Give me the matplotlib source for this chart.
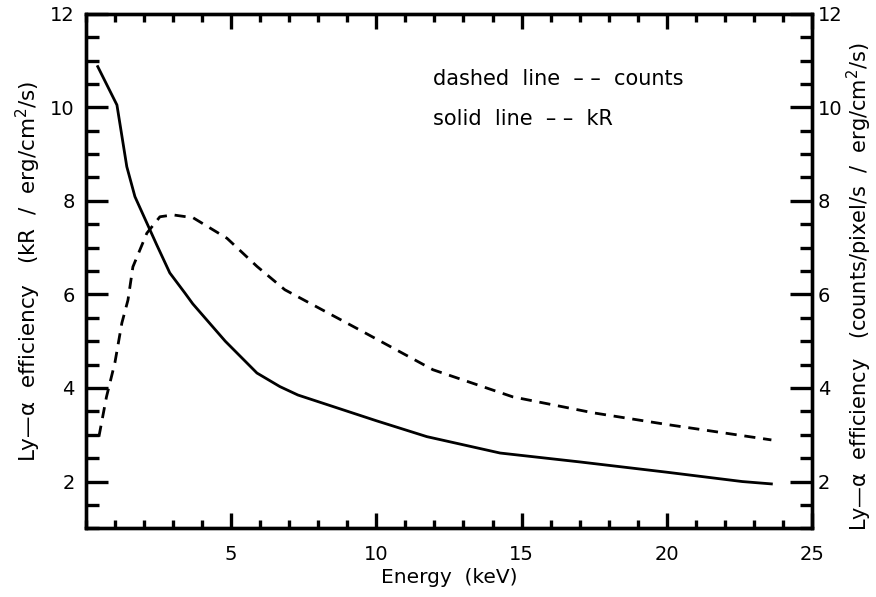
import numpy as np
import matplotlib.pyplot as plt
from matplotlib.ticker import MultipleLocator

# Energy (keV) and efficiencies
energy_kr = [0.41, 1.07, 1.41, 1.69, 2.44, 2.89, 3.41, 3.68, 4.8, 5.89, 6.68, 7.3,
             10.0, 11.74, 14.26, 17.0, 20.0, 22.6, 23.6]
kr = [10.87, 10.05, 8.73, 8.09, 7.06, 6.46, 6.03, 5.8, 5.0, 4.32, 4.03, 3.85,
      3.3, 2.96, 2.61, 2.42, 2.2, 2.0, 1.95]

energy_counts = [0.45, 0.71, 1.0, 1.24, 1.45, 1.62, 2.1, 2.55, 3.0, 3.69, 4.86,
                 5.89, 6.85, 9.43, 11.95, 14.7, 17.46, 20.0, 23.6]
counts = [2.96, 3.81, 4.54, 5.39, 5.88, 6.59, 7.31, 7.66, 7.7, 7.64, 7.2,
          6.6, 6.1, 5.24, 4.39, 3.81, 3.47, 3.22, 2.89]

plt.rcParams['font.family'] = ['DejaVu Sans']

fig = plt.figure(figsize=(8.76, 5.97), dpi=100)
ax = fig.add_axes([0.098, 0.115, 0.829, 0.862])

ax.plot(energy_kr, kr, color='black', lw=2.0)
ax.plot(energy_counts, counts, color='black', lw=2.0, ls=(0, (4, 2.8)))

ax.set_xlim(0, 25)
ax.set_ylim(1, 12)
ax.xaxis.set_minor_locator(MultipleLocator(1))
ax.yaxis.set_minor_locator(MultipleLocator(0.5))
ax.set_xticks([5, 10, 15, 20, 25])
ax.set_yticks([2, 4, 6, 8, 10, 12])

for s in ax.spines.values():
    s.set_linewidth(2.4)

ax.tick_params(axis='x', which='major', direction='in', length=11, width=2.4,
               top=True, labelsize=14, pad=12)
ax.tick_params(axis='x', which='minor', direction='in', length=6, width=2.4, top=True)
ax.tick_params(axis='y', which='major', direction='in', length=16, width=2.4,
               labelsize=14, pad=8)
ax.tick_params(axis='y', which='minor', direction='in', length=9, width=2.4)

ax.set_xlabel('Energy  (keV)', fontsize=14.5, labelpad=3)
ax.set_ylabel('Ly\u2014α  efficiency   (kR  /  erg/cm$^2$/s)', fontsize=15.5, labelpad=5)

ax2 = ax.twinx()
ax2.set_ylim(1, 12)
ax2.yaxis.set_minor_locator(MultipleLocator(0.5))
ax2.set_yticks([2, 4, 6, 8, 10, 12])
ax2.tick_params(axis='y', which='major', direction='in', length=16, width=2.4,
                labelsize=14, pad=4)
ax2.tick_params(axis='y', which='minor', direction='in', length=9, width=2.4)
for s in ax2.spines.values():
    s.set_linewidth(2.4)
ax2.set_ylabel('Ly\u2014α  efficiency   (counts/pixel/s  /  erg/cm$^2$/s)',
               fontsize=15)
ax2.yaxis.set_label_coords(1.045, 0.47)

ax.text(0.478, 0.873, 'dashed  line  \u2013 \u2013  counts', transform=ax.transAxes,
        fontsize=15, va='center')
ax.text(0.478, 0.795, 'solid  line  \u2013 \u2013  kR', transform=ax.transAxes,
        fontsize=15, va='center')

fig.savefig('out.png', dpi=100)
